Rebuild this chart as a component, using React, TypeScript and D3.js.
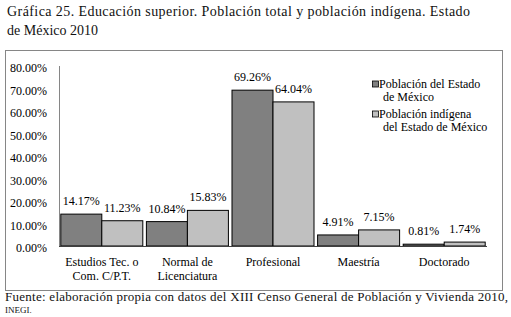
import React from "react";
import * as d3 from "d3";

const categories = [
  ["Estudios Tec. o", "Com. C/P.T."],
  ["Normal de", "Licenciatura"],
  ["Profesional"],
  ["Maestría"],
  ["Doctorado"],
];
const seriesNames = [
  ["Población del Estado", "de México"],
  ["Población indígena", "del Estado de México"],
];
const estado = [14.17, 10.84, 69.26, 4.91, 0.81];
const indigena = [11.23, 15.83, 64.04, 7.15, 1.74];
const yTicks = [0, 10, 20, 30, 40, 50, 60, 70, 80];
const colors = ["#808080", "#c0c0c0"];

const FONT = '"Liberation Serif", "Times New Roman", serif';

export default function App() {
  const W = 511;
  const H = 317;
  const x0 = 59;
  const x1 = 487;
  const yBase = 246;
  const yTop = 66;

  const keys = categories.map((c) => c.join(" "));
  const x = d3
    .scaleBand<string>()
    .domain(keys)
    .range([x0, x1])
    .paddingInner(0.042)
    .paddingOuter(0.021);
  const xs = d3
    .scaleBand<number>()
    .domain([0, 1])
    .range([0, x.bandwidth()]);
  const y = d3.scaleLinear().domain([0, 80]).range([yBase, yTop]);
  const series = [estado, indigena];

  return (
    <svg
      width={W}
      height={H}
      style={{ position: "absolute", left: 0, top: 0, background: "#fff", fontFamily: FONT }}
    >
      <rect x={0} y={0} width={W} height={H} fill="#fff" />
      {/* Title */}
      <text x={7} y={16} fontSize={14} fill="#111" textLength={463} lengthAdjust="spacing">
        Gráfica 25. Educación superior. Población total y población indígena. Estado
      </text>
      <text x={7} y={35} fontSize={14} fill="#111">
        de México 2010
      </text>
      {/* Frame */}
      <rect x={5.5} y={50.5} width={497} height={240} fill="none" stroke="#868686" strokeWidth={1} />

      {/* Y axis */}
      <line x1={59.5} x2={59.5} y1={yTop} y2={yBase} stroke="#868686" />
      {yTicks.map((t) => (
        <text key={t} x={47} y={y(t) + 6} fontSize={12} textAnchor="end" fill="#000">
          {t.toFixed(2)}%
        </text>
      ))}

      {/* Bars */}
      {keys.map((k, i) =>
        series.map((s, j) => {
          const bx = (x(k) as number) + (xs(j) as number);
          const by = y(s[i]);
          return (
            <g key={k + j}>
              <rect
                x={bx}
                y={by}
                width={xs.bandwidth()}
                height={yBase - by}
                fill={colors[j]}
                stroke="#000"
                strokeWidth={1}
              />
              <text
                x={bx + xs.bandwidth() / 2}
                y={by - 9}
                fontSize={12}
                textAnchor="middle"
                fill="#000"
              >
                {s[i].toFixed(2)}%
              </text>
            </g>
          );
        })
      )}
      {/* X axis */}
      <line x1={x0} x2={x1} y1={yBase + 0.5} y2={yBase + 0.5} stroke="#404040" />
      {categories.map((c, i) => (
        <text
          key={keys[i]}
          x={(x(keys[i]) as number) + x.bandwidth() / 2}
          y={266}
          fontSize={12}
          textAnchor="middle"
          fill="#000"
        >
          {c.map((line, li) => (
            <tspan key={li} x={(x(keys[i]) as number) + x.bandwidth() / 2} dy={li === 0 ? 0 : 13.5}>
              {line}
            </tspan>
          ))}
        </text>
      ))}

      {/* Legend */}
      {seriesNames.map((n, j) => {
        const cy = 84 + j * 30;
        return (
          <g key={j}>
            <rect x={372.5} y={cy - 3} width={6} height={6} fill={colors[j]} stroke="#000" strokeWidth={0.8} />
            <text x={379} y={cy + 4} fontSize={12} fill="#000">
              {n[0]}
            </text>
            <text x={383} y={cy + 17} fontSize={12} fill="#000">
              {n[1]}
            </text>
          </g>
        );
      })}

      {/* Source */}
      <text x={5} y={301} fontSize={13} fill="#111" textLength={503} lengthAdjust="spacing">
        Fuente: elaboración propia con datos del XIII Censo General de Población y Vivienda 2010,
      </text>
      <text x={5} y={313} fontSize={9} fill="#111">
        INEGI.
      </text>
    </svg>
  );
}
